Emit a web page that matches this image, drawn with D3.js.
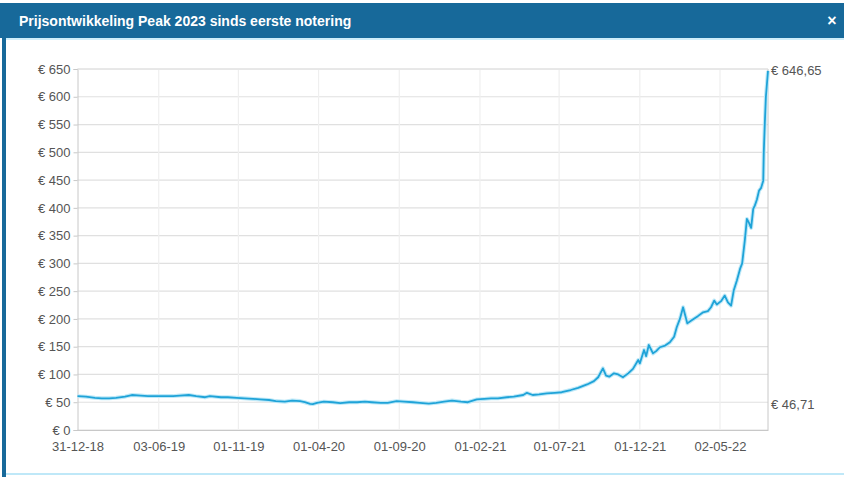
<!DOCTYPE html>
<html><head><meta charset="utf-8">
<script src="https://cdn.jsdelivr.net/npm/d3@7"></script>
<style>
html,body{margin:0;padding:0;background:#fff;}
svg{display:block;font-family:"Liberation Sans",Arial,sans-serif;}
</style></head>
<body><svg id="c" width="844" height="477"></svg>
<script>
const title = "Prijsontwikkeling Peak 2023 sinds eerste notering";
const dates = ["2018-12-31","2019-01-16","2019-02-02","2019-02-15","2019-03-01","2019-03-14","2019-03-31","2019-04-13","2019-04-30","2019-05-14","2019-05-31","2019-06-15","2019-06-30","2019-07-13","2019-07-30","2019-08-13","2019-08-30","2019-09-08","2019-09-29","2019-10-12","2019-10-29","2019-11-12","2019-11-29","2019-12-12","2019-12-29","2020-01-11","2020-01-28","2020-02-11","2020-02-26","2020-03-06","2020-03-16","2020-03-21","2020-03-29","2020-04-11","2020-04-28","2020-05-12","2020-05-29","2020-06-13","2020-06-28","2020-07-11","2020-07-28","2020-08-10","2020-08-27","2020-09-10","2020-09-27","2020-10-10","2020-10-27","2020-11-10","2020-11-25","2020-12-10","2020-12-27","2021-01-09","2021-01-26","2021-02-09","2021-02-22","2021-03-07","2021-03-24","2021-04-06","2021-04-24","2021-05-01","2021-05-12","2021-05-24","2021-06-08","2021-06-23","2021-07-06","2021-07-23","2021-08-06","2021-08-23","2021-09-05","2021-09-13","2021-09-22","2021-09-28","2021-10-04","2021-10-13","2021-10-21","2021-10-30","2021-11-09","2021-11-18","2021-11-28","2021-12-01","2021-12-09","2021-12-13","2021-12-18","2021-12-26","2022-01-01","2022-01-08","2022-01-18","2022-01-27","2022-02-04","2022-02-09","2022-02-15","2022-02-21","2022-03-01","2022-03-10","2022-03-21","2022-03-31","2022-04-09","2022-04-15","2022-04-21","2022-04-26","2022-05-04","2022-05-11","2022-05-17","2022-05-23","2022-05-28","2022-06-03","2022-06-09","2022-06-13","2022-06-18","2022-06-22","2022-06-26","2022-06-30","2022-07-04","2022-07-07","2022-07-11","2022-07-15","2022-07-19","2022-07-23","2022-07-24","2022-07-26","2022-07-28","2022-08-01"];
const prices = [61,60,58,57,57,58,60,63,62,61,61,61,61,62,63,61,59,61,59,59,58,57,56,55,54,52,51,53,52,50,47,46.71,49,51,50,48.5,50,50,51,50,49,49,52,51,50,49,47.5,49,51,53,51,50,55,56,57,57,59,60,63,67,63,64,66,67,68,72,76,82,88,95,111,98,96,102,100,95,102,110,126,120,144,133,153,138,142,149,152,158,168,185,200,221,192,198,205,212,214,221,233,226,232,242,230,224,251,269,290,300,341,380,373,364,398,404,415,431,436,449,500,553,600,646.65];
const xTicks = ["2018-12-31","2019-06-03","2019-11-01","2020-04-01","2020-09-01","2021-02-01","2021-07-01","2021-12-01","2022-05-02"];
const yTicks = [0,50,100,150,200,250,300,350,400,450,500,550,600,650];
const rightLabels = ["€ 646,65","€ 46,71"];

const parse = d3.timeParse("%Y-%m-%d");
const data = dates.map((d,i)=>({date:parse(d), v:prices[i]}));
const svg = d3.select("#c");

// frame
svg.append("rect").attr("x",0).attr("y",3).attr("width",844).attr("height",35).attr("fill","#17699a");
svg.append("rect").attr("x",2).attr("y",38).attr("width",4).attr("height",439).attr("fill","#17699a");
svg.append("rect").attr("x",6).attr("y",38).attr("width",838).attr("height",2).attr("fill","#cfeefa");
svg.append("rect").attr("x",6).attr("y",473).attr("width",838).attr("height",2).attr("fill","#bfe8f8");
svg.append("text").attr("x",19).attr("y",26).attr("fill","#fff").attr("font-size",14).attr("font-weight","bold").text(title);
svg.append("text").attr("x",832).attr("y",26).attr("fill","#fff").attr("font-size",16).attr("font-weight","bold").attr("text-anchor","middle").text("×");

const L=77.5, R=768, T=69, B=430;
const x = d3.scaleTime().domain([parse("2018-12-31"), parse("2022-08-01")]).range([L,R]);
const y = d3.scaleLinear().domain([0,650]).range([B,T]);

// grid
svg.append("g").selectAll("line").data(yTicks).join("line")
  .attr("x1",L).attr("x2",R).attr("y1",d=>y(d)).attr("y2",d=>y(d))
  .attr("stroke","#e0e0e0").attr("stroke-width",1.2);
svg.append("g").selectAll("line").data(xTicks.slice(1)).join("line")
  .attr("x1",d=>x(parse(d))).attr("x2",d=>x(parse(d))).attr("y1",T).attr("y2",B)
  .attr("stroke","#efefef").attr("stroke-width",1.2);

// axes
const yAxis = svg.append("g").attr("transform",`translate(${L},0)`)
  .call(d3.axisLeft(y).tickValues(yTicks).tickSize(4).tickPadding(3).tickFormat(d=>"€ "+d));
yAxis.select(".domain").attr("stroke","#c8c8c8");
yAxis.selectAll(".tick line").attr("stroke","#c8c8c8");
yAxis.selectAll("text").attr("fill","#555").attr("font-size",13).attr("font-family","Liberation Sans, Arial, sans-serif");

const xAxis = svg.append("g").attr("transform",`translate(0,${B})`)
  .call(d3.axisBottom(x).tickValues(xTicks.map(parse)).tickSize(0).tickPadding(12).tickFormat(d3.timeFormat("%d-%m-%y")));
xAxis.select(".domain").attr("stroke","#c8c8c8");
xAxis.selectAll("text").attr("fill","#555").attr("font-size",13).attr("font-family","Liberation Sans, Arial, sans-serif");

svg.append("line").attr("x1",R).attr("x2",R).attr("y1",T).attr("y2",B).attr("stroke","#c8c8c8");
svg.append("line").attr("x1",L).attr("x2",R).attr("y1",T).attr("y2",T).attr("stroke","#e0e0e0");

// line
const line = d3.line().x(d=>x(d.date)).y(d=>y(d.v)).curve(d3.curveLinear);
svg.append("path").datum(data).attr("d",line).attr("fill","none")
  .attr("stroke","#bfe9f8").attr("stroke-width",4).attr("stroke-linejoin","round");
svg.append("path").datum(data).attr("d",line).attr("fill","none")
  .attr("stroke","#1fa3d8").attr("stroke-width",1.8).attr("stroke-linejoin","round");

// right labels
const last = data[data.length-1];
const minD = data.reduce((a,b)=>b.v<a.v?b:a);
svg.append("text").attr("x",R+3).attr("y",y(last.v)).attr("dy","0.35em").attr("fill","#555").attr("font-size",13).text(rightLabels[0]);
svg.append("text").attr("x",R+3).attr("y",y(minD.v)).attr("dy","0.35em").attr("fill","#555").attr("font-size",13).text(rightLabels[1]);
</script></body></html>
